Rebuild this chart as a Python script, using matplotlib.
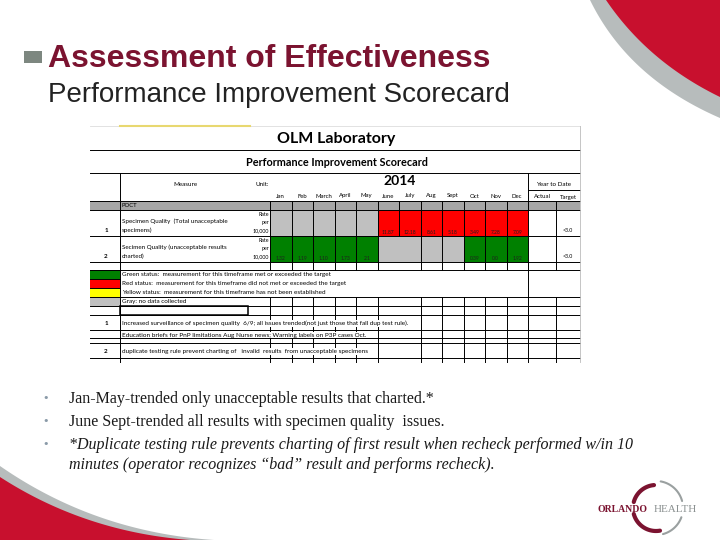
import numpy as np
import matplotlib.pyplot as plt
from matplotlib.patches import Rectangle, Polygon

# ---- data ----
months = ['Jan', 'Feb', 'March', 'April', 'May', 'June', 'July',
          'Aug', 'Sept', 'Oct', 'Nov', 'Dec']
row1_vals = ['', '', '', '', '', '11.87', '12.18', '8.61', '5.18', '3.49', '7.28', '7.09']
row1_stat = ['gray'] * 5 + ['red'] * 7
row2_vals = ['1.32', '1.19', '1.10', '1.73', '2.1', '', '', '', '', '0.39', '0.0', '1.92']
row2_stat = ['green'] * 5 + ['gray'] * 4 + ['green'] * 3
targets = ['<3.0', '<3.0']
measures = [['Specimen Quality  (Total unacceptable', 'specimens)'],
            ['Secimen Quality (unacceptable results', 'charted)']]
legend_labels = ['Green status:  measurement for this timeframe met or exceeded the target',
                 'Red status:  measurement for this timeframe did not met or exceeded the target',
                 'Yellow status:  measurement for this timeframe has not been established',
                 'Gray: no data collected']
legend_keys = ['green', 'red', 'yellow', 'gray']
notes = [('1', 'Increased surveillance of specimen quality  6/9; all issues trended(not just those that fall dup test rule).'),
         ('', 'Education briefs for PnP limitations Aug Nurse news; Warning labels on P3P cases Oct.'),
         ('2', 'duplicate testing rule prevent charting of   invalid  results  from unacceptable specimens')]
bullets = [['Jan-May-trended only unacceptable results that charted.*'],
           ['June Sept-trended all results with specimen quality  issues.'],
           ['*Duplicate testing rule prevents charting of first result when recheck performed w/in 10',
            'minutes (operator recognizes \u201cbad\u201d result and performs recheck).']]

colors = {'green': '#008000', 'red': '#ff0000', 'yellow': '#ffff00', 'gray': '#c0c0c0'}
maroon = '#7b1330'
crimson = '#c8102e'
tfont = 'Lato'

fig = plt.figure(figsize=(7.2, 5.4), dpi=100)
ax = fig.add_axes([0, 0, 1, 1])
ax.set_xlim(0, 720)
ax.set_ylim(540, 0)
ax.axis('off')


def bezier(p0, p1, p2, n=60):
    t = np.linspace(0, 1, n)[:, None]
    return (1 - t) ** 2 * np.array(p0) + 2 * (1 - t) * t * np.array(p1) + t ** 2 * np.array(p2)


def arc(c, r, a0, a1, **kw):
    # angles as seen on screen (y axis runs downward)
    th = np.radians(np.linspace(a0, a1, 50))
    ax.plot(c[0] + r * np.cos(th), c[1] - r * np.sin(th), solid_capstyle='round', **kw)


# ---- slide decorations ----
edge = bezier((590, 0), (628, 78), (720, 118))
ax.add_patch(Polygon(np.vstack([edge, [[720, 0]]]), color='#b7bcbc', lw=0))
edge = bezier((606, 0), (648, 62), (720, 97))
ax.add_patch(Polygon(np.vstack([edge, [[720, 0]]]), color=crimson, lw=0))

edge = bezier((0, 466), (95, 532), (214, 540))
ax.add_patch(Polygon(np.vstack([edge, [[0, 540]]]), color='#b7bcbc', lw=0))
edge = bezier((0, 477), (85, 532), (190, 540))
ax.add_patch(Polygon(np.vstack([edge, [[0, 540]]]), color=crimson, lw=0))

ax.add_patch(Rectangle((24, 51), 18, 12, color='#7d8780', lw=0))
ax.text(48, 67, 'Assessment of Effectiveness', fontsize=23, fontweight='bold',
        family='Liberation Sans', color=maroon, va='baseline')
ax.text(48, 102, 'Performance Improvement Scorecard', fontsize=20,
        family='Liberation Sans', color='#222222', va='baseline')

# logo
lc = (656, 508)
arc(lc, 23, 95, 165, color=maroon, lw=3)
arc(lc, 23, 195, 280, color=maroon, lw=3)
arc(lc, 27, 15, 80, color='#9aa0a0', lw=1.5)
arc(lc, 27, 285, 340, color='#9aa0a0', lw=1.5)
ax.text(598, 510, 'ORLANDO', fontsize=7, fontweight='bold', family='Liberation Serif',
        color=maroon, va='center', ha='left')
ax.text(654, 510, 'HEALTH', fontsize=8, family='Liberation Serif',
        color='#8a9090', va='center', ha='left')

# ---- bullets ----
by = [403, 426, 449]
for y, lines in zip(by, bullets):
    ax.text(46, y - 5, '\u2022', fontsize=8, color='#8a9aa8', va='center', ha='center')
    italic = lines[0].startswith('*')
    for j, ln in enumerate(lines):
        ax.text(69, y + j * 20, ln, fontsize=11.5, family='Liberation Serif', color='#1a1a1a',
                style='italic' if italic else 'normal', va='baseline')

# ---- scorecard table ----
L, C1, C2 = 90, 120, 270
mw = 21.5
mx = [C2 + i * mw for i in range(13)]
xa, xt, R = 528, 556, 580

ax.plot([C1, 250], [126, 126], color='#e8d870', lw=1.5)
ax.plot([L, R], [126, 126], color='#dddddd', lw=0.6, zorder=0)
ax.text(336, 139, 'OLM Laboratory', fontsize=11.5, fontweight='bold', family=tfont,
        ha='center', va='center')
ax.text(337, 163, 'Performance Improvement Scorecard', fontsize=7.8, fontweight='bold',
        family=tfont, ha='center', va='center')
ax.text(400, 181, '2014', fontsize=10, fontweight='bold', family=tfont, ha='center', va='center')
ax.text(185, 185, 'Measure', fontsize=4.5, family=tfont, ha='center', va='center')
ax.text(262, 185, 'Unit:', fontsize=4.5, family=tfont, ha='center', va='center')
ax.text(554, 184, 'Year to Date', fontsize=4.5, family=tfont, ha='center', va='center')
ax.text(542, 197, 'Actual', fontsize=4.3, family=tfont, ha='center', va='center')
ax.text(568, 197, 'Target', fontsize=4.3, family=tfont, ha='center', va='center')
for i, m in enumerate(months):
    ax.text(mx[i] + mw / 2, 196, m, fontsize=4.3, family=tfont, ha='center', va='center')

# POCT band
ax.add_patch(Rectangle((L, 201), R - L, 9, color='#a6a6a6', lw=0))
ax.text(122, 205.5, 'POCT', fontsize=4.3, family=tfont, va='center')

rows = [(210, 236, row1_vals, row1_stat), (236, 262, row2_vals, row2_stat)]
for k, (y0, y1, vals, stat) in enumerate(rows):
    for i in range(12):
        ax.add_patch(Rectangle((mx[i], y0), mw, y1 - y0, color=colors[stat[i]], lw=0))
        if vals[i]:
            ax.text(mx[i] + mw / 2, y1 - 4, vals[i], fontsize=3.6, family=tfont,
                    color='#202020', ha='center', va='center')
    ax.text(106, y1 - 5, str(k + 1), fontsize=4.5, fontweight='bold', family=tfont,
            ha='center', va='center')
    for j, ln in enumerate(measures[k]):
        ax.text(122, y0 + 11 + j * 9, ln, fontsize=4.5, family=tfont, va='center')
    for j, w in enumerate(['Rate', 'per', '10,000']):
        ax.text(269, y0 + 4 + j * 8.3, w, fontsize=3.8, family=tfont, ha='right', va='center')
    ax.text(568, y1 - 5, targets[k], fontsize=3.8, family=tfont, ha='center', va='center')

# legend rows
ly = [270, 279, 288, 297]
for y, key, lab in zip(ly, legend_keys, legend_labels):
    ax.add_patch(Rectangle((L, y), C1 - L, 9, color=colors[key], lw=0))
    ax.text(122, y + 4.5, lab, fontsize=4.6, family=tfont, va='center')

# box row and notes
ax.add_patch(Rectangle((C1, 306), 128, 9, fill=False, ec='black', lw=1.1))
note_rows = [(315, 330), (330, 338), (343, 358)]
for (y0, y1), (num, txt) in zip(note_rows, notes):
    yc = (y0 + y1) / 2 + 1
    if num:
        ax.text(106, yc, num, fontsize=4.5, fontweight='bold', family=tfont, ha='center', va='center')
    ax.text(122, yc, txt, fontsize=4.6, family=tfont, va='center', zorder=5,
            bbox=dict(fc='white', ec='none', pad=0.6))

# grid lines
lw = 0.7
for y in [150, 173]:
    ax.plot([L, R], [y, y], color='black', lw=lw)
for y in [201, 210, 236, 262, 270, 297, 306, 315, 330, 338, 343, 358]:
    ax.plot([L, R], [y, y], color='black', lw=lw)
for y in [279, 288]:
    ax.plot([L, C1], [y, y], color='black', lw=lw)
ax.plot([xa, R], [190, 190], color='black', lw=lw)
ax.plot([C1, C1], [173, 362], color='black', lw=lw)
ax.plot([xa, xa], [173, 362], color='black', lw=lw)
ax.plot([C2, C2], [201, 270], color='black', lw=lw)
ax.plot([C2, C2], [297, 362], color='black', lw=lw)
for x in mx[1:12] + [xt]:
    if x == mx[6]:
        ax.plot([x, x], [201, 236], color='black', lw=lw)
        continue
    ax.plot([x, x], [201, 270], color='black', lw=lw)
    ax.plot([x, x], [297, 362], color='black', lw=lw)
ax.plot([R, R], [126, 362], color='#bbbbbb', lw=0.6)

fig.savefig('out.png', dpi=100)
